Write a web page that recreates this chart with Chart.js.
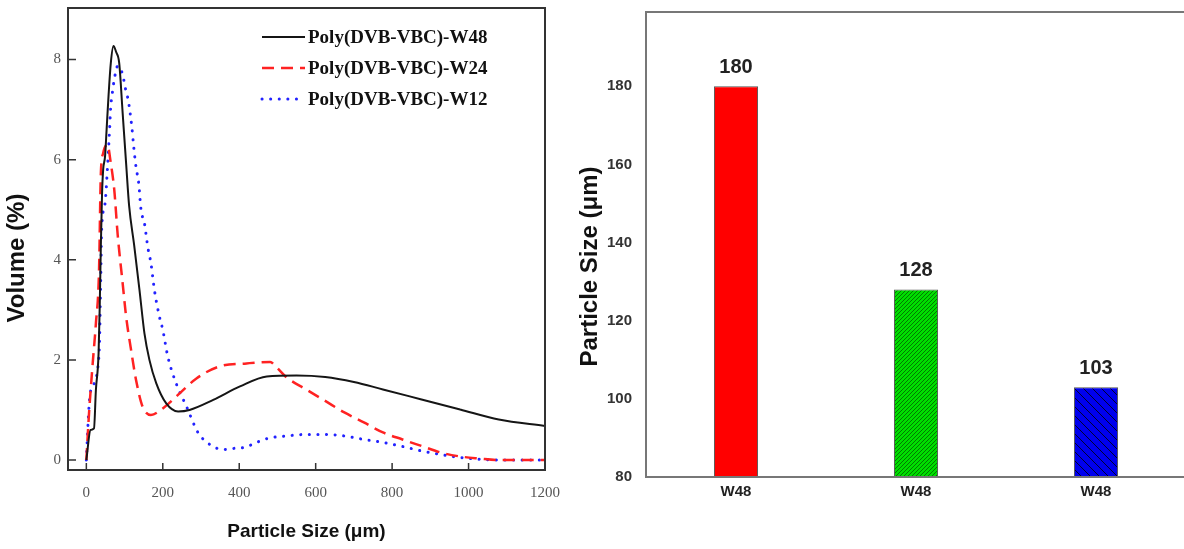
<!DOCTYPE html>
<html>
<head>
<meta charset="utf-8">
<script src="https://cdn.jsdelivr.net/npm/chart.js@4.4.1/dist/chart.umd.min.js"></script>
<style>
    html, body { margin: 0; padding: 0; background: #fff; overflow: hidden; width: 1184px; height: 549px; }
    #left { position: absolute; left: 0; top: 0; width: 580px; height: 549px; }
    #right { position: absolute; left: 560px; top: 0; width: 640px; height: 549px; }
</style>
</head>
<body>
<div id="left"><canvas id="sizeChart"></canvas></div>
<div id="right"><canvas id="barChart"></canvas></div>
<script>
// particle size distribution (um) vs volume (%)
var size_w48 = [0, 11, 20, 25, 32, 35, 38, 41, 44, 49, 53, 58, 64, 71, 78, 86, 95, 104, 112, 125, 139, 152, 165, 183, 209, 240, 270, 332, 402, 472, 550, 625, 700, 776, 877, 978, 1079, 1200];
var vol_w48 = [0, 0.6, 0.63, 1.4, 2.13, 3.07, 4.3, 5.3, 5.8, 6.07, 6.6, 7.27, 7.93, 8.27, 8.15, 7.93, 6.93, 5.93, 5.07, 4.3, 3.4, 2.53, 2.0, 1.53, 1.13, 0.97, 1.0, 1.2, 1.47, 1.67, 1.69, 1.66, 1.56, 1.41, 1.21, 1.01, 0.81, 0.68];

var size_w24 = [0, 7, 16, 25, 33, 38, 44, 55, 64, 73, 82, 95, 104, 117, 130, 147, 169, 200, 244, 288, 349, 419, 481, 494, 524, 575, 625, 675, 726, 776, 827, 877, 927, 978, 1028, 1079, 1200];
var vol_w24 = [0, 0.93, 1.87, 2.73, 3.73, 5.73, 6.13, 6.3, 5.93, 5.4, 4.5, 3.53, 2.87, 2.2, 1.6, 1.07, 0.9, 1.03, 1.33, 1.63, 1.87, 1.93, 1.96, 1.88, 1.65, 1.41, 1.18, 0.95, 0.75, 0.55, 0.41, 0.28, 0.15, 0.07, 0.03, 0, 0];

var size_w12 = [0, 7, 12, 33, 38, 40, 49, 55, 60, 64, 68, 73, 82, 95, 102, 110, 119, 124, 130, 137, 143, 152, 161, 169, 178, 191, 200, 213, 235, 262, 292, 323, 358, 383, 411, 474, 524, 575, 625, 675, 726, 776, 827, 877, 927, 978, 1079, 1200];
var vol_w12 = [0, 1.07, 1.4, 2.07, 3.73, 4.6, 5.13, 5.8, 6.47, 7.07, 7.33, 7.6, 7.87, 7.7, 7.43, 7.17, 6.65, 6.25, 5.85, 5.53, 5.0, 4.73, 4.24, 3.93, 3.4, 2.87, 2.6, 2.07, 1.53, 1.07, 0.55, 0.31, 0.21, 0.23, 0.25, 0.43, 0.48, 0.51, 0.51, 0.48, 0.41, 0.35, 0.27, 0.18, 0.11, 0.05, 0, 0];

var series_names = ["Poly(DVB-VBC)-W48", "Poly(DVB-VBC)-W24", "Poly(DVB-VBC)-W12"];
var size_ticks = [0, 200, 400, 600, 800, 1000, 1200];
var volume_ticks = [0, 2, 4, 6, 8];

// mean particle size bars
var bar_labels = ["W48", "W48", "W48"];
var bar_sizes = [180, 128, 103];
var bar_ticks = [80, 100, 120, 140, 160, 180];

function toPoints(xs, ys) {
    return xs.map((x, i) => ({ x: x, y: ys[i] }));
}

function hatch(base, line, step, dir) {
    var c = document.createElement("canvas");
    c.width = step;
    c.height = step;
    var g = c.getContext("2d");
    g.fillStyle = base;
    g.fillRect(0, 0, step, step);
    g.strokeStyle = line;
    g.lineWidth = 1;
    g.beginPath();
    if (dir === "/") {
        g.moveTo(-1, step + 1); g.lineTo(step + 1, -1);
        g.moveTo(-2, 2); g.lineTo(2, -2);
        g.moveTo(step - 2, step + 2); g.lineTo(step + 2, step - 2);
    } else {
        g.moveTo(-1, -1); g.lineTo(step + 1, step + 1);
        g.moveTo(-2, step - 2); g.lineTo(2, step + 2);
        g.moveTo(step - 2, -2); g.lineTo(step + 2, 2);
    }
    g.stroke();
    return g.createPattern(c, "repeat");
}

// box round the plot with short inward ticks
var framePlugin = {
    id: "frame",
    afterDraw(chart, args, opts) {
        var ctx = chart.ctx;
        var a = chart.chartArea;
        ctx.save();
        ctx.strokeStyle = opts.color;
        ctx.lineWidth = 2;
        ctx.strokeRect(a.left, a.top, a.right - a.left, a.bottom - a.top);
        if (opts.ticks) {
            ctx.lineWidth = 1.5;
            ctx.beginPath();
            chart.scales.x.ticks.forEach((t) => {
                var px = chart.scales.x.getPixelForValue(t.value);
                ctx.moveTo(px, a.bottom);
                ctx.lineTo(px, a.bottom - 7);
            });
            chart.scales.y.ticks.forEach((t) => {
                var py = chart.scales.y.getPixelForValue(t.value);
                ctx.moveTo(a.left, py);
                ctx.lineTo(a.left + 8, py);
            });
            ctx.stroke();
        }
        ctx.restore();
    },
};

// rotated y title, sitting a little below the middle of the plot
var sideTitle = {
    id: "sideTitle",
    afterDraw(chart, args, opts) {
        var ctx = chart.ctx;
        var a = chart.chartArea;
        ctx.save();
        ctx.translate(opts.x, (a.top + a.bottom) / 2 + opts.shift);
        ctx.rotate(-Math.PI / 2);
        ctx.font = "bold " + opts.size + "px 'Liberation Sans', Arial, sans-serif";
        ctx.fillStyle = "#111";
        ctx.textAlign = "center";
        ctx.textBaseline = "middle";
        ctx.fillText(opts.text, 0, 0);
        ctx.restore();
    },
};

// legend inside the plot, top right
var insideLegend = {
    id: "insideLegend",
    afterDraw(chart, args, opts) {
        var ctx = chart.ctx;
        ctx.save();
        ctx.font = "bold 19px 'Liberation Serif', 'Times New Roman', serif";
        ctx.textBaseline = "middle";
        ctx.fillStyle = "#111";
        chart.data.datasets.forEach((ds, i) => {
            var y = opts.top + i * opts.rowGap;
            ctx.strokeStyle = ds.borderColor;
            ctx.lineWidth = ds.borderWidth;
            ctx.lineCap = ds.borderCapStyle || "butt";
            ctx.setLineDash(ds.borderDash || []);
            ctx.beginPath();
            ctx.moveTo(opts.left, y);
            ctx.lineTo(opts.left + 43, y);
            ctx.stroke();
            ctx.fillText(ds.label, opts.left + 46, y + 1);
        });
        ctx.restore();
    },
};

// value on top of each bar
var barValues = {
    id: "barValues",
    afterDatasetsDraw(chart) {
        var ctx = chart.ctx;
        var meta = chart.getDatasetMeta(0);
        ctx.save();
        ctx.font = "bold 20px 'Liberation Sans', Arial, sans-serif";
        ctx.fillStyle = "#222";
        ctx.textAlign = "center";
        ctx.textBaseline = "alphabetic";
        meta.data.forEach((bar, i) => {
            ctx.fillText(bar_sizes[i], bar.x, bar.y - 13);
        });
        ctx.restore();
    },
};

var serifTicks = { family: "'Liberation Serif', 'Times New Roman', serif", size: 15 };
var sansBold = (size) => ({ family: "'Liberation Sans', Arial, sans-serif", size: size, weight: "bold" });
var plain = (v) => String(v);
var noPad = (s) => { s.paddingTop = 0; s.paddingBottom = 0; s.paddingLeft = 0; s.paddingRight = 0; };

//- LINE CHART -
new Chart(document.getElementById("sizeChart"), {
    type: "line",
    data: {
        datasets: [
            {
                label: series_names[0],
                data: toPoints(size_w48, vol_w48),
                borderColor: "#151515",
                borderWidth: 2,
            },
            {
                label: series_names[1],
                data: toPoints(size_w24, vol_w24),
                borderColor: "#ff2222",
                borderWidth: 2.5,
                borderDash: [12, 7],
            },
            {
                label: series_names[2],
                data: toPoints(size_w12, vol_w12),
                borderColor: "#2222ff",
                borderWidth: 3,
                borderDash: [0.1, 8.5],
                borderCapStyle: "round",
            },
        ],
    },
    options: {
        responsive: true,
        maintainAspectRatio: false,
        animation: false,
        elements: {
            point: { radius: 0 },
            line: { cubicInterpolationMode: "monotone" },
        },
        layout: { padding: { top: 8, right: 35, left: 0, bottom: 0 } },
        plugins: {
            legend: { display: false },
            tooltip: { enabled: false },
            frame: { color: "#333", ticks: true },
            insideLegend: { left: 262, top: 37, rowGap: 31 },
            sideTitle: { text: "Volume (%)", x: 17, shift: 19, size: 24 },
        },
        scales: {
            x: {
                type: "linear",
                min: -48,
                max: 1200,
                grid: { display: false, drawTicks: false },
                border: { display: false },
                afterBuildTicks: (s) => { s.ticks = size_ticks.map((v) => ({ value: v })); },
                afterFit: (s) => { s.height = 79; noPad(s); },
                ticks: { font: serifTicks, color: "#555", padding: 14, maxRotation: 0, autoSkip: false, callback: plain },
                title: {
                    display: true,
                    text: "Particle Size (\u03bcm)",
                    color: "#111",
                    font: sansBold(19),
                    padding: { top: 0, bottom: 6 },
                },
            },
            y: {
                min: -0.2,
                max: 9.03,
                grid: { display: false, drawTicks: false },
                border: { display: false },
                afterBuildTicks: (s) => { s.ticks = volume_ticks.map((v) => ({ value: v })); },
                afterFit: (s) => { s.width = 68; noPad(s); },
                ticks: { font: serifTicks, color: "#555", padding: 7, callback: plain },
            },
        },
    },
    plugins: [framePlugin, insideLegend, sideTitle],
});

//- BAR CHART -
new Chart(document.getElementById("barChart"), {
    type: "bar",
    data: {
        labels: bar_labels,
        datasets: [
            {
                data: bar_sizes,
                backgroundColor: [
                    "#ff0000",
                    hatch("#00dd00", "#007a00", 4, "/"),
                    hatch("#0000ee", "#000033", 9, "\\"),
                ],
                borderColor: "#555",
                borderWidth: 1,
                barPercentage: 0.245,
                categoryPercentage: 1,
            },
        ],
    },
    options: {
        responsive: true,
        maintainAspectRatio: false,
        animation: false,
        layout: { padding: { top: 12, right: 14, left: 0, bottom: 0 } },
        plugins: {
            legend: { display: false },
            tooltip: { enabled: false },
            frame: { color: "#777", ticks: false },
            sideTitle: { text: "Particle Size (\u03bcm)", x: 30, shift: 22, size: 24 },
        },
        scales: {
            x: {
                grid: { display: false, drawTicks: false },
                border: { display: false },
                afterFit: (s) => { s.height = 72; noPad(s); },
                ticks: { font: sansBold(15), color: "#222", padding: 6 },
            },
            y: {
                min: 80,
                max: 199,
                grid: { display: false, drawTicks: false },
                border: { display: false },
                afterBuildTicks: (s) => { s.ticks = bar_ticks.map((v) => ({ value: v })); },
                afterFit: (s) => { s.width = 86; noPad(s); },
                ticks: { font: sansBold(15), color: "#333", padding: 14, callback: plain },
            },
        },
    },
    plugins: [framePlugin, barValues, sideTitle],
});
</script>
</body>
</html>
